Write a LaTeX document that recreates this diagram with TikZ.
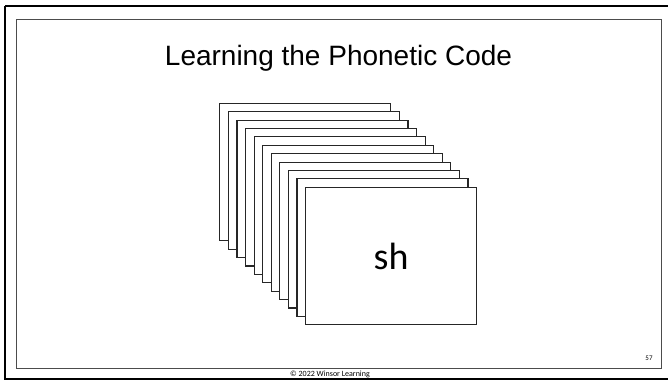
\documentclass[tikz,border=0pt]{standalone}
\usepackage{fontspec}
\setmainfont{Liberation Sans}
\newfontfamily\cardfont{Carlito}
\begin{document}
\begin{tikzpicture}[x=1pt,y=-1pt,
  card/.style={draw=black!85, line width=1.1pt, fill=white, inner sep=0pt,
    minimum width=171pt, minimum height=137.5pt, anchor=north west},
  titletext/.style={font=\fontsize{28}{32}\selectfont, anchor=base, inner sep=0pt},
  smalltext/.style={font=\cardfont\fontsize{8}{9}\selectfont, anchor=base, inner sep=0pt}]
  \useasboundingbox (0,0) rectangle (668,380);
  \fill[white] (0,0) rectangle (668,380);
  % slide borders
  \draw[line width=2pt, black] (5,6) -- (672,6);
  \draw[line width=2pt, black] (5,6) -- (5,379) -- (672,379);
  \draw[line width=1pt, black!70] (16,19) rectangle (661,368);
  % title
  \node[titletext] (title) at (338.5,65) {Learning the Phonetic Code};
  % stack of cards, back to front
  \foreach \i in {0,...,10} {
    \node[card] (c\i) at ({219.3+8.57*\i},{102.7+8.4*\i}) {};
  }
  \node[font=\cardfont\fontsize{38}{40}\selectfont, inner sep=0pt] (sh) at (c10.center) {sh};
  % footer
  \node[smalltext] (copy) at (330,376) {© 2022 Winsor Learning};
  \node[smalltext, font=\cardfont\fontsize{7}{8}\selectfont] (page) at (649,360) {57};
\end{tikzpicture}
\end{document}
